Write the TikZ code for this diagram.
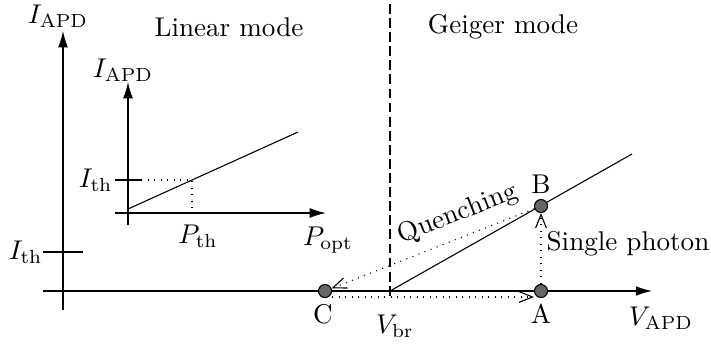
\documentclass[tikz,border=0pt]{standalone}
\usetikzlibrary{arrows.meta,calc}
\begin{document}
\begin{tikzpicture}[x=0.369pt,y=-0.369pt,
  axis/.style={line width=0.4pt,-{Latex[length=6pt,width=3.6pt]}},
  thin line/.style={line width=0.4pt},
  dotarrow/.style={dotted,line width=0.4pt,-{Straight Barb[length=5pt,width=4pt]}},
  pt/.style={circle,draw=black,fill=black!60,line width=0.4pt,minimum size=4.8pt,inner sep=0pt},
  lbl/.style={inner sep=0pt}]
\useasboundingbox (0,0) rectangle (711,347);
% main axes
\coordinate (vbot) at (63,310);
\coordinate (vtop) at (63,31);
\coordinate (hleft) at (43,291);
\coordinate (hright) at (652,291);
\draw[axis] (vbot) -- (vtop);
\draw[axis] (hleft) -- (hright);
\node[lbl] (iapd) at (58,16) {$I_{\mathrm{APD}}$};
\node[lbl] (vapd) at (661,318) {$V_{\mathrm{APD}}$};
% main threshold tick
\coordinate (tl) at (43,252);
\coordinate (tr) at (83,252);
\draw[thin line] (tl) -- (tr);
\node[lbl,anchor=east] (ith) at (tl) {$I_{\mathrm{th}}$};
% inset
\coordinate (ivbot) at (128,225);
\coordinate (ivtop) at (128,82);
\coordinate (ihleft) at (115,213);
\coordinate (ihright) at (326,213);
\draw[axis] (ivbot) -- (ivtop);
\draw[axis] (ihleft) -- (ihright);
\node[lbl] (iiapd) at (123,70) {$I_{\mathrm{APD}}$};
\node[lbl] (popt) at (328,240) {$P_{\mathrm{opt}}$};
\coordinate (ls) at (128,209);
\coordinate (le) at (298,132);
\draw[thin line] (ls) -- (le);
\coordinate (itl) at (115,180);
\coordinate (itr) at (141,180);
\coordinate (ix) at (192,180);
\coordinate (ixb) at (192,213);
\draw[thin line] (itl) -- (itr);
\draw[dotted,line width=0.4pt] (itr) -- (ix) -- (ixb);
\node[lbl,anchor=east] (iith) at ($(itl)+(-2,0)$) {$I_{\mathrm{th}}$};
\node[lbl] (pth) at (198,236) {$P_{\mathrm{th}}$};
% mode labels
\node[lbl] (lin) at (229,27) {Linear mode};
\node[lbl] (gei) at (503,27) {Geiger mode};
% breakdown
\coordinate (dtop) at (390,4);
\coordinate (dbot) at (390,297);
\draw[line width=0.4pt,dash pattern=on 3.6pt off 1.6pt] (dtop) -- (dbot);
\node[lbl] (vbr) at (395,326) {$V_{\mathrm{br}}$};
\coordinate (bs) at (390,291);
\coordinate (be) at (632,154);
\draw[thin line] (bs) -- (be);
% points
\node[pt] (C) at (325,291) {};
\node[pt] (A) at (541,291) {};
\node[pt] (B) at (541,206) {};
\node[lbl] (Cl) at (323,314) {C};
\node[lbl] (Al) at (541,314) {A};
\node[lbl] (Bl) at (541,184) {B};
% transitions
\draw[dotarrow] (A) -- (B);
\draw[dotarrow] (B) -- (C);
\draw[dotarrow] ($(C.east)+(0,6)$) -- ($(A.west)+(0,6)$);
\node[lbl] (sp) at (628,244) {Single photon};
\node[lbl,rotate=21.5] (qu) at (458,214) {Quenching};
\end{tikzpicture}
\end{document}
